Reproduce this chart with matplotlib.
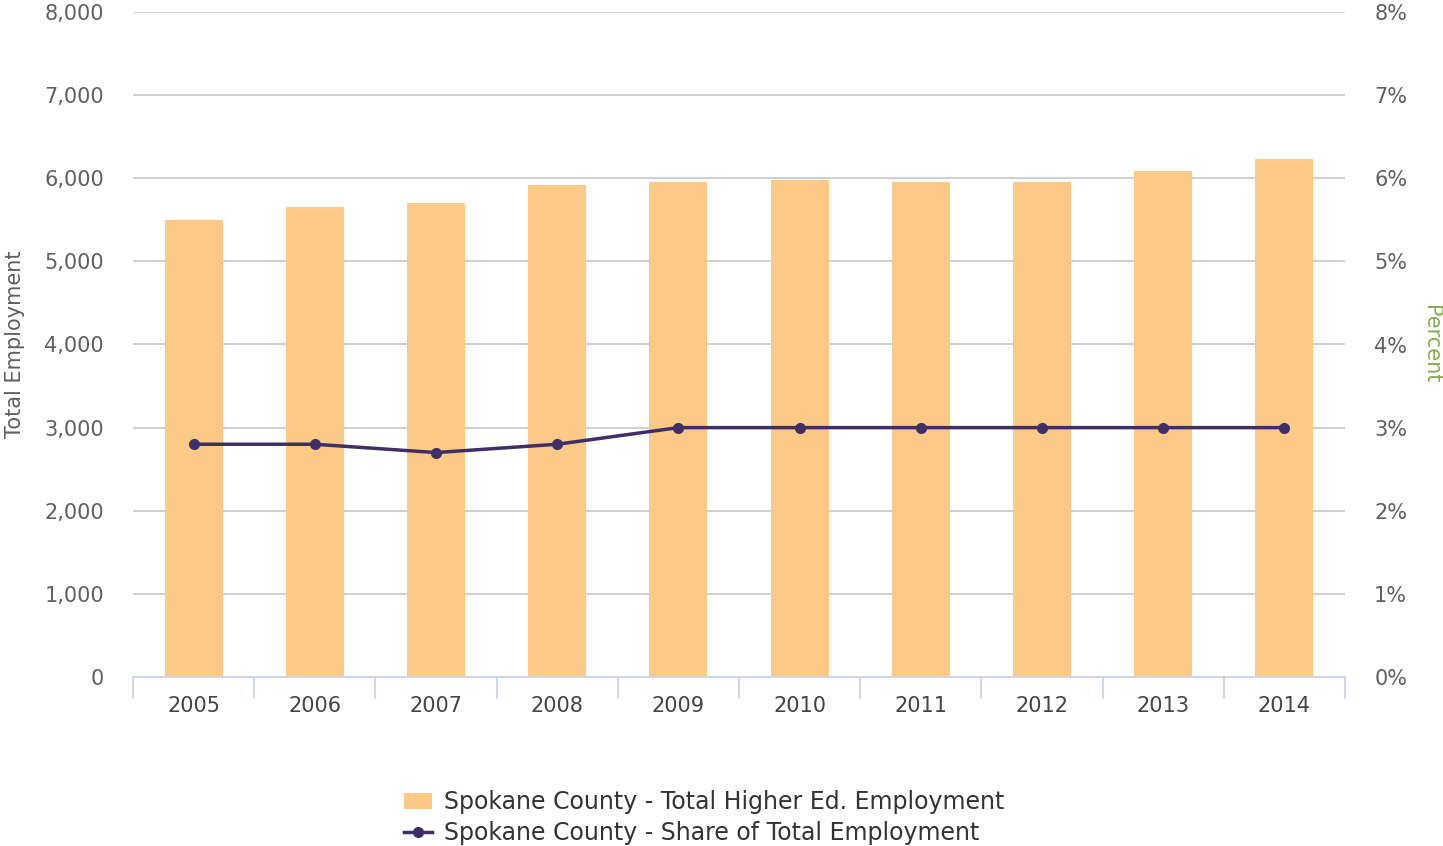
import numpy as np
import matplotlib.pyplot as plt
from matplotlib.ticker import FuncFormatter

years = ['2005', '2006', '2007', '2008', '2009', '2010', '2011', '2012', '2013', '2014']
employment = [5500, 5650, 5700, 5920, 5955, 5980, 5955, 5955, 6090, 6230]
share = [2.8, 2.8, 2.7, 2.8, 3.0, 3.0, 3.0, 3.0, 3.0, 3.0]

bar_color = '#fdc986'
line_color = '#3e2f66'
text_color = '#606060'

fig = plt.figure(figsize=(14.43, 8.46), dpi=100)
ax = fig.add_axes([133 / 1443, 1 - 677 / 846, (1345 - 133) / 1443, 665 / 846])
ax2 = ax.twinx()

x = np.arange(len(years))
ax.bar(x, employment, width=0.48, color=bar_color, zorder=2,
       label='Spokane County - Total Higher Ed. Employment')
ax2.plot(x, share, color=line_color, lw=2.5, marker='o', ms=7, zorder=3,
         label='Spokane County - Share of Total Employment')

ax.set_xlim(-0.5, len(years) - 0.5)
ax.set_ylim(0, 8000)
ax2.set_ylim(0, 8)
ax.set_yticks(np.arange(0, 8001, 1000))
ax2.set_yticks(np.arange(0, 9, 1))
ax.yaxis.set_major_formatter(FuncFormatter(lambda v, p: f'{int(v):,}'))
ax2.yaxis.set_major_formatter(FuncFormatter(lambda v, p: f'{int(v)}%'))

ax.grid(axis='y', color='#cccccc', lw=1.3, zorder=0)
ax.set_axisbelow(True)

ax.set_xticks(x)
ax.set_xticklabels(years)
ax.set_xticks(np.arange(-0.5, len(years)), minor=True)
ax.tick_params(axis='x', which='major', length=0, pad=14, labelsize=15, labelcolor='#444444')
ax.tick_params(axis='x', which='minor', length=16, color='#ccd6eb', width=1.3)
ax.tick_params(axis='y', length=0, pad=21, labelsize=15, labelcolor=text_color)
ax2.tick_params(axis='y', length=0, pad=21, labelsize=15, labelcolor=text_color)

for a in (ax, ax2):
    for s in ['top', 'left', 'right', 'bottom']:
        a.spines[s].set_visible(False)
ax.spines['bottom'].set_visible(True)
ax.spines['bottom'].set_color('#ccd6eb')
ax.spines['bottom'].set_linewidth(1.3)

ax.set_ylabel('Total Employment', fontsize=15, color=text_color, labelpad=14)
ax2.set_ylabel('Percent', fontsize=15, color='#8bab4f', rotation=270, labelpad=24)

h1, l1 = ax.get_legend_handles_labels()
h2, l2 = ax2.get_legend_handles_labels()
fig.legend(h1 + h2, l1 + l2, loc='upper center', bbox_to_anchor=(0.488, 0.077),
           frameon=False, fontsize=17, labelcolor='#333333', handlelength=1.2,
           handletextpad=0.5, labelspacing=0.3, borderaxespad=0)

fig.savefig('out.png', dpi=100)
